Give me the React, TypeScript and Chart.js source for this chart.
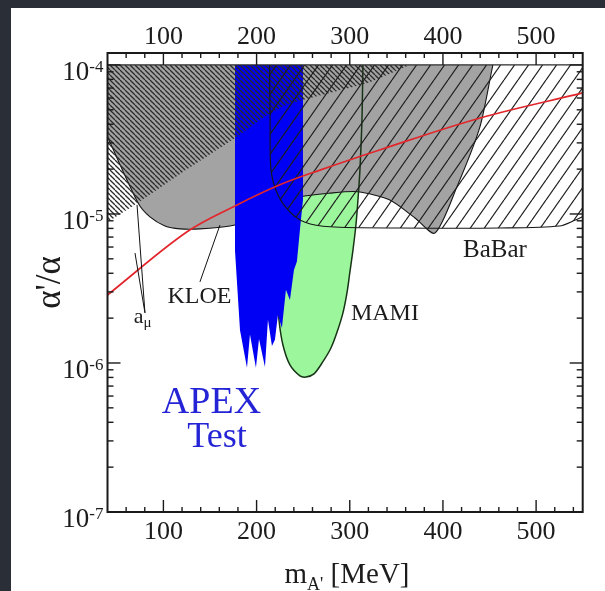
import { useEffect, useRef } from "react";
import { Chart, registerables } from "chart.js";

Chart.register(...registerables);

// Axis ranges
const massMin = 40;
const massMax = 550;
const alphaMin = 1e-7;
const alphaMax = 1.203e-4;
const CAP = 1e-4; // upper edge of every exclusion region

const xMajorTicks = [100, 200, 300, 400, 500];
const xTickLabels = ["100", "200", "300", "400", "500"];
const yDecades = [-7, -6, -5, -4];

// a_mu exclusion (fine hatching), excluded above this curve
const amuMass = [40, 72.7, 123, 177, 225, 279, 322, 359, 365];
const amuLimit = [8.8e-6, 1.19e-5, 1.95e-5, 3.24e-5, 5.14e-5, 6.5e-5, 7.7e-5, 9.7e-5, 1e-4];

// KLOE exclusion (grey)
const kloeMass = [40, 72.7, 85.6, 101.7, 117.8, 139.2, 171.4, 203.6, 225.1, 246.6, 278.7, 308.8, 343, 370, 391.4, 415, 439.7, 452.5, 453.6];
const kloeLimit = [3.3e-5, 1.19e-5, 9.55e-6, 8.3e-6, 7.94e-6, 7.94e-6, 8.3e-6, 9.4e-6, 1.13e-5, 1.3e-5, 1.38e-5, 1.41e-5, 1.24e-5, 9.4e-6, 7.44e-6, 1.52e-5, 3.84e-5, 9.25e-5, 1e-4];

// BaBar estimate (coarse hatching)
const babarMass = [214, 214.5, 215.5, 223, 236, 252, 279, 354, 461, 525, 542, 550];
const babarLimit = [1e-4, 4e-5, 1.97e-5, 1.34e-5, 1.03e-5, 8.8e-6, 8.2e-6, 8.05e-6, 8.05e-6, 8.3e-6, 9.1e-6, 9.6e-6];

// MAMI (A1) exclusion
const mamiMass = [219.5, 220, 221, 224, 228.3, 235.8, 246.5, 253, 261.6, 271.2, 279.8, 286.2, 292.7, 297, 300.2, 303.4, 306.6, 308.8, 310.9, 313.1, 314.1];
const mamiLimit = [1e-4, 1.24e-5, 3.6e-6, 1.95e-6, 1.32e-6, 9.7e-7, 8.2e-7, 8.05e-7, 8.45e-7, 1.02e-6, 1.26e-6, 1.6e-6, 2.17e-6, 2.95e-6, 4.1e-6, 5.7e-6, 8.4e-6, 1.24e-5, 1.97e-5, 4.3e-5, 1e-4];

// APEX test run limit
const apexMass = [176.8, 176.8, 182.2, 189.7, 192.9, 199.3, 202.6, 209, 212.2, 216.5, 219.7, 222.9, 227.2, 231.5, 235.8, 240.1, 243.3, 246.5, 249.8, 249.8];
const apexLimit = [1e-4, 5.7e-6, 1.66e-6, 9.3e-7, 1.55e-6, 9.3e-7, 1.45e-6, 9.4e-7, 1.95e-6, 1.3e-6, 1.43e-6, 2.1e-6, 1.72e-6, 3.1e-6, 2.65e-6, 4.2e-6, 4.8e-6, 7.8e-6, 1.24e-5, 1e-4];

// Lower edge of the a_mu favoured band (red)
const bandMass = [40, 125, 179, 225, 268, 332, 440, 550];
const bandAlpha = [2.86e-6, 7.57e-6, 1.15e-5, 1.57e-5, 1.97e-5, 2.69e-5, 4.41e-5, 6.49e-5];

// Region labels (baseline centre, in data units)
const regionLabels = [
  { text: "BaBar", mass: 455.8, alpha: 5.14e-6, size: 25, color: "#1c1c1c" },
  { text: "MAMI", mass: 337.7, alpha: 1.95e-6, size: 24, color: "#1c1c1c" },
  { text: "KLOE", mass: 138.7, alpha: 2.53e-6, size: 24, color: "#1c1c1c" },
  { text: "APEX", mass: 151.6, alpha: 4.61e-7, size: 38, color: "#2424d6" },
  { text: "Test", mass: 157.5, alpha: 2.73e-7, size: 36, color: "#2424d6" },
];
const amuLabel = { text: "a", sub: "\u03bc", mass: 77.6, alpha: 1.85e-6 };

// Leader lines from labels to regions: [mass1, alpha1, mass2, alpha2]
const leaderLines = [
  [139.2, 3.5e-6, 160.7, 8.43e-6],
  [80.2, 2.17e-6, 71.7, 1.15e-5],
  [80.2, 2.17e-6, 69.5, 5.47e-6],
];

const SERIF = '"Liberation Serif", "Times New Roman", serif';

const pts = (xs: number[], ys: number[]) => xs.map((x, i) => ({ x, y: ys[i] }));

function makeHatch(
  ctx: CanvasRenderingContext2D,
  w: number,
  h: number,
  rising: boolean,
  color: string,
  lw: number
) {
  const tile = document.createElement("canvas");
  tile.width = w;
  tile.height = h;
  const g = tile.getContext("2d")!;
  g.strokeStyle = color;
  g.lineWidth = lw;
  for (const dx of [-w, 0, w]) {
    g.beginPath();
    if (rising) {
      g.moveTo(dx, h);
      g.lineTo(dx + w, 0);
    } else {
      g.moveTo(dx, 0);
      g.lineTo(dx + w, h);
    }
    g.stroke();
  }
  return ctx.createPattern(tile, "repeat")!;
}

const framePlugin = {
  id: "frame",
  afterDraw(chart: any) {
    const { ctx, chartArea: a, scales } = chart;
    const x = scales.x;
    const y = scales.y;
    const seg = (x1: number, y1: number, x2: number, y2: number) => {
      ctx.beginPath();
      ctx.moveTo(x1, y1);
      ctx.lineTo(x2, y2);
      ctx.stroke();
    };
    ctx.save();

    // upper edge of the exclusion regions
    ctx.strokeStyle = "#2a2a2a";
    ctx.lineWidth = 1.2;
    const yc = y.getPixelForValue(CAP);
    seg(a.left, yc, a.right, yc);

    // leader lines
    ctx.strokeStyle = "#111";
    ctx.lineWidth = 1;
    for (const [m1, a1, m2, a2] of leaderLines) {
      seg(x.getPixelForValue(m1), y.getPixelForValue(a1), x.getPixelForValue(m2), y.getPixelForValue(a2));
    }

    // frame
    ctx.strokeStyle = "#1a1a1a";
    ctx.lineWidth = 2;
    ctx.strokeRect(a.left, a.top, a.right - a.left, a.bottom - a.top);

    // x ticks (inward, top and bottom)
    ctx.lineWidth = 1.4;
    for (let v = massMin + 20; v < massMax; v += 20) {
      const px = x.getPixelForValue(v);
      const len = xMajorTicks.includes(v) ? 12 : 5;
      seg(px, a.bottom, px, a.bottom - len);
      seg(px, a.top, px, a.top + len);
    }
    // y ticks (inward, left and right)
    for (const d of yDecades) {
      for (let k = 1; k <= 9; k++) {
        const v = k * Math.pow(10, d);
        if (v < alphaMin || v > alphaMax) continue;
        const py = y.getPixelForValue(v);
        const len = k === 1 ? 13 : 6;
        seg(a.left, py, a.left + len, py);
        seg(a.right, py, a.right - len, py);
      }
    }

    ctx.fillStyle = "#1c1c1c";
    // x tick labels
    ctx.font = `26px ${SERIF}`;
    ctx.textAlign = "center";
    ctx.textBaseline = "alphabetic";
    xMajorTicks.forEach((v, i) => {
      const px = x.getPixelForValue(v);
      ctx.fillText(xTickLabels[i], px, a.bottom + 27);
      ctx.fillText(xTickLabels[i], px, a.top - 9);
    });

    // y tick labels: 10 with superscript exponent
    ctx.textAlign = "right";
    for (const d of yDecades) {
      const py = y.getPixelForValue(Math.pow(10, d));
      const exp = "-" + Math.abs(d);
      ctx.font = `17px ${SERIF}`;
      const ew = ctx.measureText(exp).width;
      const right = a.left - 4;
      ctx.fillText(exp, right, py + 7);
      ctx.font = `27px ${SERIF}`;
      ctx.fillText("10", right - ew, py + 15);
    }

    // x title: m_A' [MeV]
    ctx.textAlign = "left";
    ctx.font = `29px ${SERIF}`;
    const wM = ctx.measureText("m").width;
    const wUnit = ctx.measureText(" [MeV]").width;
    ctx.font = `18px ${SERIF}`;
    const wSub = ctx.measureText("A'").width;
    const total = wM + wSub + wUnit;
    let tx = 347 - total / 2;
    const tb = a.bottom + 71;
    ctx.font = `29px ${SERIF}`;
    ctx.fillText("m", tx, tb);
    tx += wM;
    ctx.font = `18px ${SERIF}`;
    ctx.fillText("A'", tx, tb + 7);
    tx += wSub;
    ctx.font = `29px ${SERIF}`;
    ctx.fillText(" [MeV]", tx, tb);

    // y title
    ctx.save();
    ctx.translate(51, (a.top + a.bottom) / 2);
    ctx.rotate(-Math.PI / 2);
    ctx.textAlign = "center";
    ctx.textBaseline = "middle";
    ctx.font = `35px ${SERIF}`;
    ctx.fillText("\u03b1'/\u03b1", 0, 0);
    ctx.restore();

    // region labels
    ctx.textAlign = "center";
    ctx.textBaseline = "alphabetic";
    for (const l of regionLabels) {
      ctx.font = `${l.size}px ${SERIF}`;
      ctx.fillStyle = l.color;
      ctx.fillText(l.text, x.getPixelForValue(l.mass), y.getPixelForValue(l.alpha));
    }
    // a_mu label with subscript
    ctx.fillStyle = "#1c1c1c";
    ctx.textAlign = "left";
    ctx.font = `22px ${SERIF}`;
    const wa = ctx.measureText(amuLabel.text).width;
    ctx.font = `15px ${SERIF}`;
    const wmu = ctx.measureText(amuLabel.sub).width;
    const ax = x.getPixelForValue(amuLabel.mass) - (wa + wmu) / 2;
    const ay = y.getPixelForValue(amuLabel.alpha);
    ctx.font = `22px ${SERIF}`;
    ctx.fillText(amuLabel.text, ax, ay);
    ctx.font = `15px ${SERIF}`;
    ctx.fillText(amuLabel.sub, ax + wa, ay + 4);

    ctx.restore();
  },
};

export default function App() {
  const canvasRef = useRef<HTMLCanvasElement | null>(null);

  useEffect(() => {
    const canvas = canvasRef.current;
    if (!canvas) return;
    const ctx = canvas.getContext("2d")!;
    const amuHatch = makeHatch(ctx, 5, 5, false, "#2b2b2b", 1.3);
    const babarHatch = makeHatch(ctx, 14, 20, true, "#1e1e1e", 1.2);

    const chart = new Chart(canvas, {
      type: "line",
      data: {
        datasets: [
          {
            label: "a_mu favoured band",
            data: pts(bandMass, bandAlpha),
            borderColor: "#e3262b",
            borderWidth: 1.7,
            fill: false,
            tension: 0.35,
            order: 0,
          },
          {
            label: "BaBar",
            data: pts(babarMass, babarLimit),
            borderColor: "#161616",
            borderWidth: 1.1,
            backgroundColor: babarHatch,
            fill: { value: CAP },
            tension: 0.3,
            order: 1,
          },
          {
            label: "a_mu",
            data: pts(amuMass, amuLimit),
            borderWidth: 0,
            backgroundColor: amuHatch,
            fill: { value: CAP },
            tension: 0.3,
            order: 2,
          },
          {
            label: "APEX",
            data: pts(apexMass, apexLimit),
            borderWidth: 0,
            backgroundColor: "#0000f4",
            fill: { value: CAP },
            tension: 0,
            order: 3,
          },
          {
            label: "MAMI edge",
            data: pts(mamiMass, mamiLimit),
            borderColor: "#173417",
            borderWidth: 1.5,
            fill: false,
            tension: 0.3,
            order: 4,
          },
          {
            label: "KLOE",
            data: pts(kloeMass, kloeLimit),
            borderColor: "#161616",
            borderWidth: 1.1,
            backgroundColor: "#a3a3a3",
            fill: { value: CAP },
            tension: 0.25,
            order: 5,
          },
          {
            label: "MAMI",
            data: pts(mamiMass, mamiLimit),
            borderWidth: 0,
            backgroundColor: "#9cf79c",
            fill: { value: CAP },
            tension: 0.3,
            order: 6,
          },
        ],
      },
      options: {
        animation: false,
        responsive: false,
        devicePixelRatio: 1,
        events: [],
        layout: { padding: { left: 107.5, right: 22.3, top: 53, bottom: 79 } },
        elements: { point: { radius: 0 } },
        scales: {
          x: { type: "linear", min: massMin, max: massMax, display: false },
          y: { type: "logarithmic", min: alphaMin, max: alphaMax, display: false },
        },
        plugins: { legend: { display: false }, tooltip: { enabled: false } },
      },
      plugins: [framePlugin],
    });
    return () => chart.destroy();
  }, []);

  return (
    <div style={{ position: "fixed", inset: 0, background: "#2a2e37" }}>
      <div style={{ position: "absolute", left: 11, top: 8, right: 0, bottom: 0, background: "#ffffff" }} />
      <canvas ref={canvasRef} width={605} height={591} style={{ position: "absolute", left: 0, top: 0 }} />
    </div>
  );
}
